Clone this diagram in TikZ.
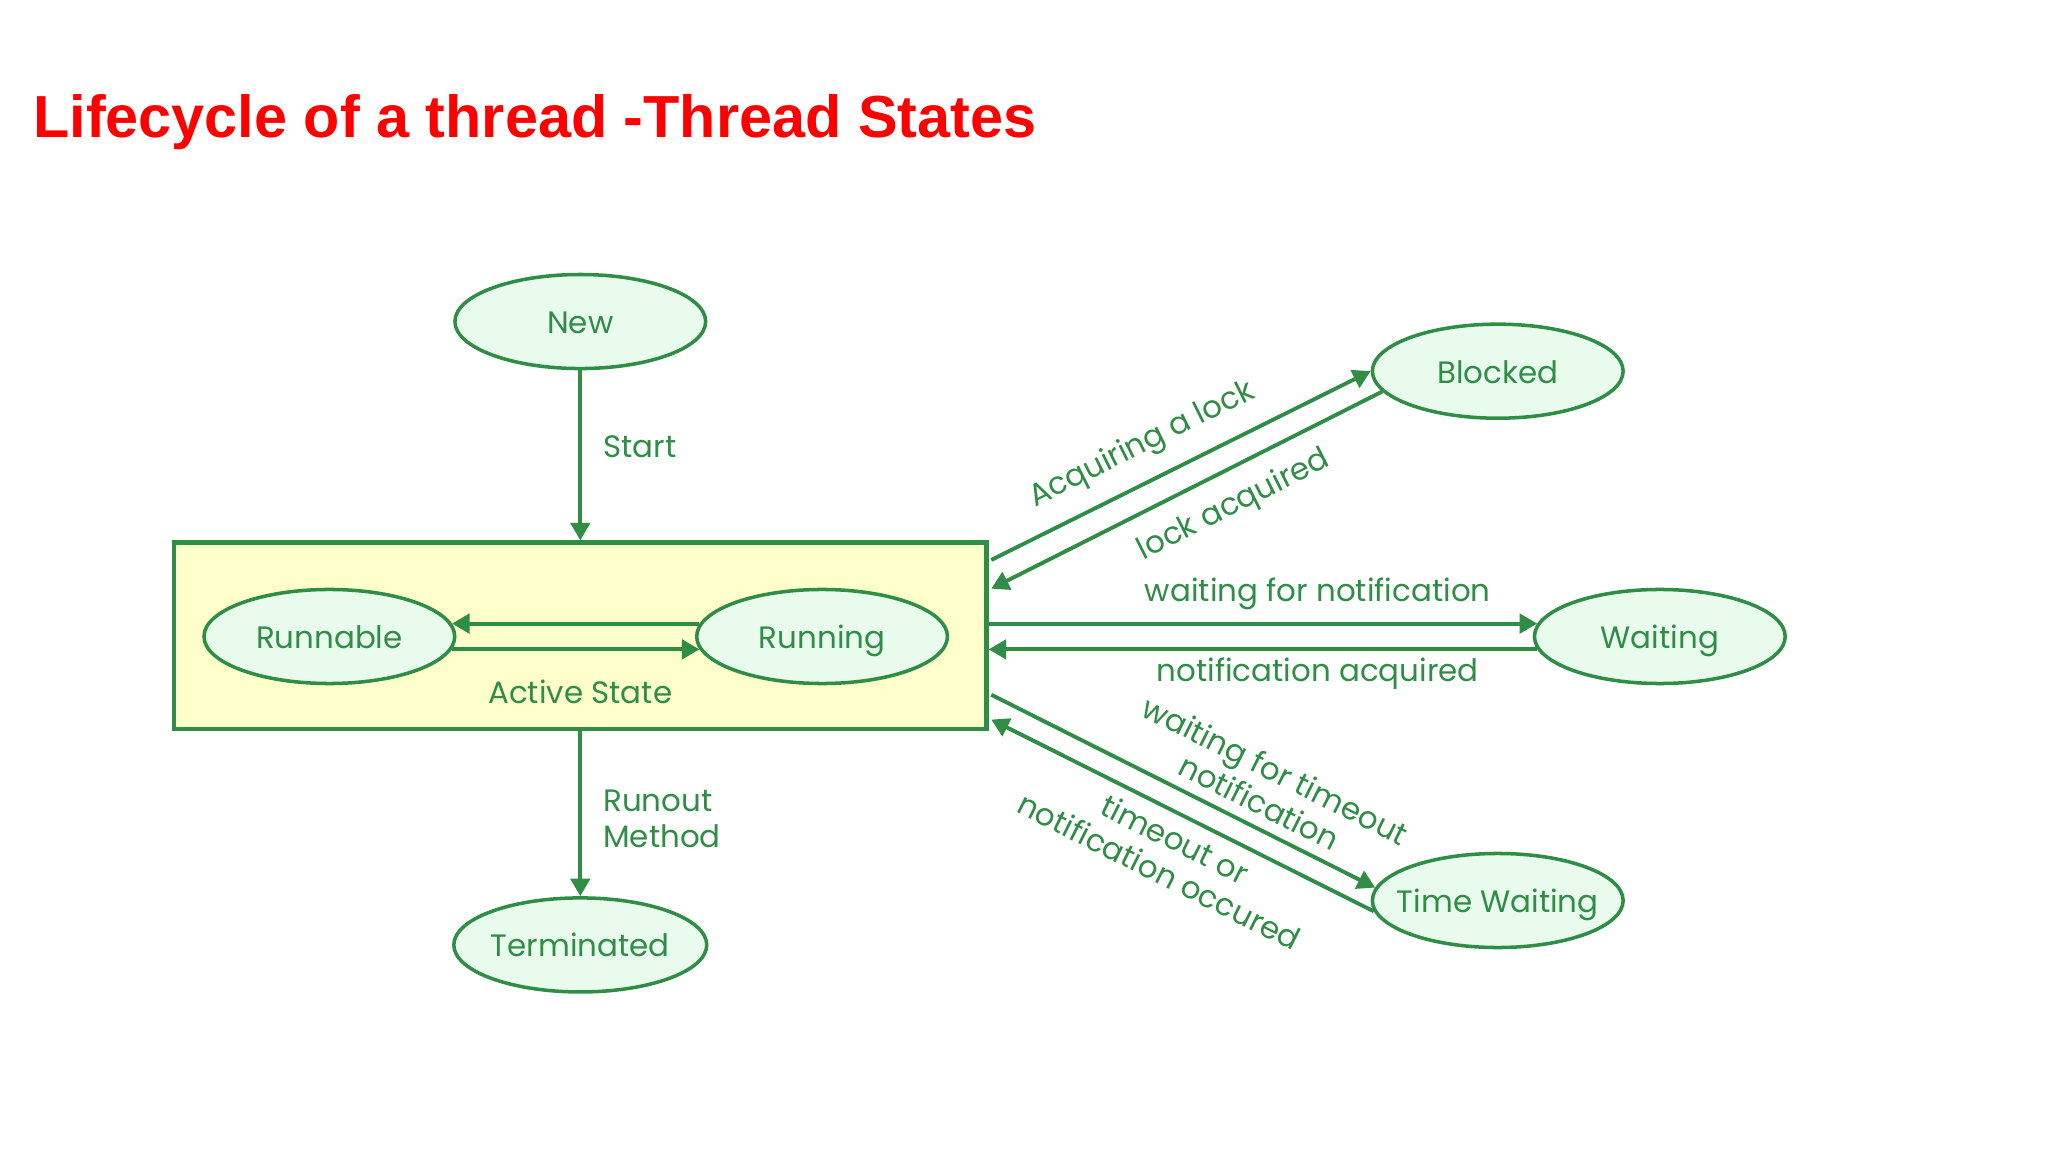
\documentclass[tikz,border=0pt]{standalone}
\usepackage{fontspec}
\setmainfont{Poppins}
\newfontfamily\titlefont{Liberation Sans}
\usetikzlibrary{shapes.geometric,arrows.meta,calc}
\definecolor{threadgreen}{RGB}{47,141,70}
\definecolor{threadmint}{RGB}{232,251,236}
\definecolor{threadyellow}{RGB}{255,255,204}
\definecolor{threadred}{RGB}{255,0,0}

\begin{document}
\begin{tikzpicture}[x=0.01307cm, y=-0.01307cm,
    every node/.style={font=\fontsize{8.8}{10.2}\selectfont, text=threadgreen},
    state/.style={ellipse, draw=threadgreen, fill=threadmint, line width=1pt,
        minimum width=2.509cm, minimum height=0.941cm, inner sep=0pt,
        text height=1.6ex, text depth=0.35ex},
    trans/.style={-{Triangle[length=5pt,width=5.5pt]}, draw=threadgreen, line width=1.1pt},
    lbl/.style={inner sep=1pt, align=center}]
    % Page
    \fill[white] (0,0) rectangle (1567,881.4);
    \useasboundingbox (0,0) rectangle (1567,881.4);

    % Title
    \node[anchor=base west, text=threadred, font=\titlefont\bfseries\fontsize{16.9}{20}\selectfont, inner sep=0pt] (title) at (25,105) {Lifecycle of a thread -Thread States};

    % Active state box
    \node[draw=threadgreen, fill=threadyellow, line width=1.2pt, minimum width=8.13cm, minimum height=1.869cm, inner sep=0pt] (active) at (444,486.5) {};
    \node[state] (runnable) at (252,487) {Runnable};
    \node[state] (running) at (629,487) {Running};
    \node (activelbl) at (444,529) {Active State};

    % Other states
    \node[state] (new) at (444,246) {New};
    \node[state] (term) at (444,723) {Terminated};
    \node[state] (blocked) at (1146,284) {Blocked};
    \node[state] (waiting) at (1270,487) {Waiting};
    \node[state, inner xsep=-3.5pt] (timewait) at (1146,689) {Time Waiting};

    % Arrows
    \draw[trans] (new) -- node[lbl, right=5pt, pos=0.45] {Start} (active);
    \draw[trans] (active) -- node[lbl, right=5pt, pos=0.53, align=left] {Runout\\Method} (term);
    \draw[trans] (running.174) -- (runnable.6);
    \draw[trans] (runnable.-6) -- (running.186);

    \draw[trans] ($(active.north east)+(2,15)$) -- node[lbl, sloped, above=4pt, pos=0.44] {Acquiring a lock} (blocked.west);
    \draw[trans] (blocked.190) -- node[lbl, sloped, below=4pt, pos=0.42] {lock acquired} ($(active.north east)+(2,37)$);
    \draw[trans] (active.east |- waiting.174) -- node[lbl, above=2.5pt, pos=0.6] {waiting for notification} (waiting.174);
    \draw[trans] (waiting.186) -- node[lbl, below=1pt, pos=0.4] {notification acquired} (active.east |- waiting.186);
    \draw[trans] ($(active.south east)+(2,-28)$) -- node[lbl, sloped, above=2pt, pos=0.67] {waiting for timeout\\notification} (timewait.174);
    \draw[trans] (timewait.185) -- node[lbl, sloped, below=2pt, pos=0.49] {timeout or\\notification occured} ($(active.south east)+(2,-9)$);
\end{tikzpicture}
\end{document}
